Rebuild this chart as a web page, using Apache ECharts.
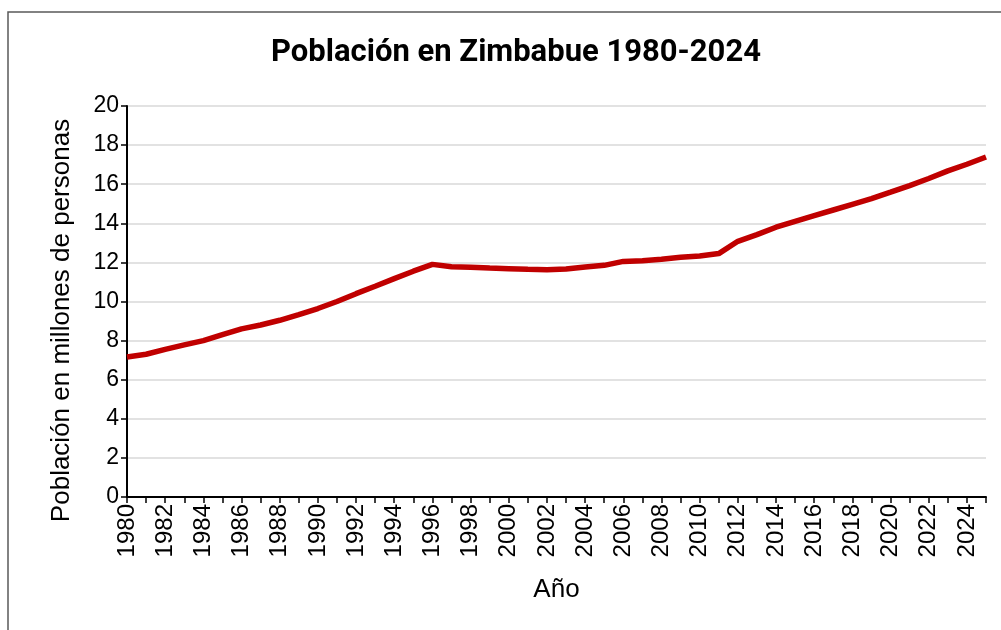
<!DOCTYPE html>
<html>
<head>
<meta charset="utf-8">
<script src="https://cdn.jsdelivr.net/npm/echarts@6/dist/echarts.min.js"></script>
<style>
html,body{margin:0;padding:0;background:#fff;}
#chart{width:1001px;height:630px;}
</style>
</head>
<body>
<div id="chart"></div>
<script>
const years = [];
for (let y = 1980; y <= 2025; y++) years.push(String(y));
const population = [
  7.16, 7.30, 7.55, 7.78, 8.00, 8.30, 8.60, 8.80, 9.04, 9.33,
  9.64, 10.00, 10.40, 10.78, 11.17, 11.55, 11.90, 11.78, 11.75, 11.71,
  11.68, 11.65, 11.63, 11.66, 11.77, 11.85, 12.05, 12.09, 12.16, 12.26,
  12.33, 12.45, 13.08, 13.42, 13.80, 14.10, 14.39, 14.68, 14.97, 15.26,
  15.59, 15.93, 16.29, 16.68, 17.02, 17.39
];
const titleText = 'Población en Zimbabue 1980-2024';
const xName = 'Año';
const yName = 'Población en millones de personas';

const chart = echarts.init(document.getElementById('chart'), null, {renderer: 'canvas'});
chart.setOption({
  animation: false,
  backgroundColor: '#ffffff',
  title: {
    text: titleText,
    left: 511,
    top: 33,
    textAlign: 'center',
    textStyle: {
      fontFamily: '"Liberation Sans Narrow", "Roboto", sans-serif',
      fontWeight: 'bold',
      fontSize: 31,
      color: '#000'
    }
  },
  graphic: [{
    type: 'rect',
    shape: {x: 8, y: 12, width: 1010, height: 640},
    style: {fill: null, stroke: '#595959', lineWidth: 1.5},
    silent: true
  }],
  grid: {left: 127, right: 15, top: 106, bottom: 133},
  xAxis: {
    type: 'category',
    data: years,
    boundaryGap: false,
    name: xName,
    nameLocation: 'middle',
    nameGap: 80,
    nameTextStyle: {fontFamily: '"Liberation Sans", Arial, sans-serif', fontSize: 26, color: '#000'},
    axisLine: {lineStyle: {color: '#000', width: 2}},
    axisTick: {show: true, interval: 0, length: 6, lineStyle: {color: '#000', width: 1.5}},
    axisLabel: {
      interval: 1, rotate: 90, margin: 7,
      fontFamily: '"Liberation Sans", Arial, sans-serif', fontSize: 24, color: '#000'
    },
    splitLine: {show: false}
  },
  yAxis: {
    type: 'value',
    min: 0, max: 20, interval: 2,
    name: yName,
    nameLocation: 'middle',
    nameGap: 52,
    nameRotate: 90,
    nameTextStyle: {fontFamily: '"Liberation Sans", Arial, sans-serif', fontSize: 26, color: '#000', padding: [0, 38, 0, 0]},
    axisLine: {show: true, lineStyle: {color: '#000', width: 2}},
    axisTick: {show: true, length: 6, lineStyle: {color: '#000', width: 1.5}},
    axisLabel: {margin: 8, fontFamily: '"Liberation Sans", Arial, sans-serif', fontSize: 23, color: '#000'},
    splitLine: {show: true, lineStyle: {color: '#d9d9d9', width: 1.5}}
  },
  series: [{
    type: 'line',
    data: population,
    showSymbol: false,
    lineStyle: {color: '#c00000', width: 5.5},
    itemStyle: {color: '#c00000'}
  }]
});
</script>
</body>
</html>
